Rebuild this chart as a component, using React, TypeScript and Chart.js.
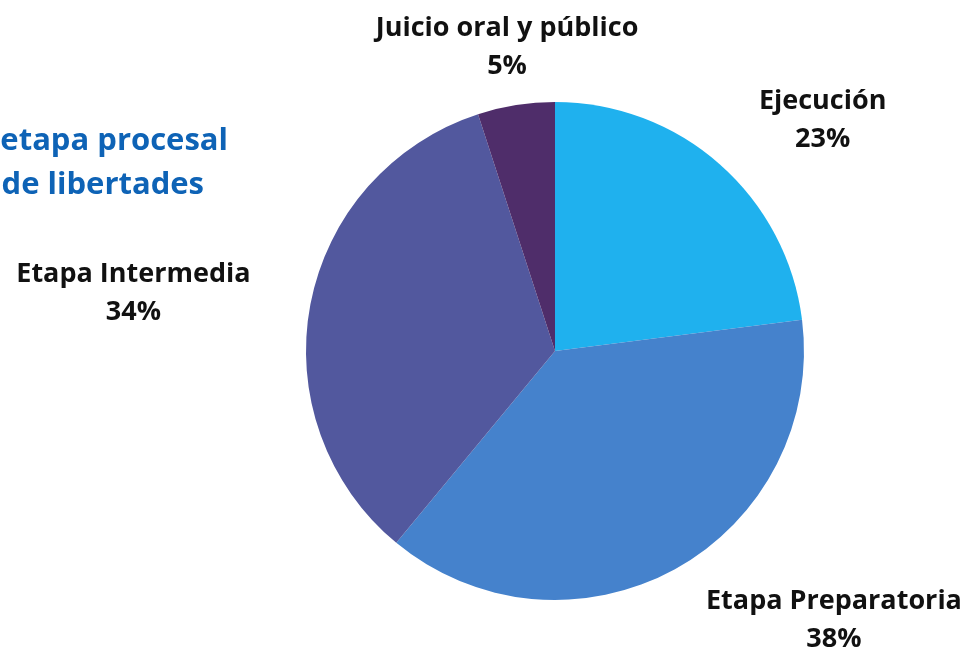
import React, { useEffect, useRef } from "react";
import { Chart, registerables } from "chart.js";

Chart.register(...registerables);

const categories = ["Ejecución", "Etapa Preparatoria", "Etapa Intermedia", "Juicio oral y público"];
const values = [23, 38, 34, 5];
const colors = ["#1FB1EE", "#4582CC", "#52589E", "#4F2D6A"];
const titleLines = ["etapa procesal", "de libertades"];
// label anchor offsets relative to the arc's mid-angle point at the outer radius
const labelOffsets = [
  [103, -44],
  [159, 51],
  [-177, -11],
  [-9, -58],
];

const FONT = "'Open Sans', 'Noto Sans', sans-serif";

const labelPlugin = {
  id: "pieLabels",
  afterDraw(chart: any) {
    const ctx = chart.ctx;
    const meta = chart.getDatasetMeta(0);
    const total = values.reduce((a, b) => a + b, 0);
    ctx.save();
    ctx.fillStyle = "#111111";
    ctx.font = `bold 27px ${FONT}`;
    ctx.textAlign = "center";
    ctx.textBaseline = "middle";
    meta.data.forEach((arc: any, i: number) => {
      const { x, y, startAngle, endAngle, outerRadius } = arc.getProps(
        ["x", "y", "startAngle", "endAngle", "outerRadius"],
        true
      );
      const mid = (startAngle + endAngle) / 2;
      const ax = x + Math.cos(mid) * outerRadius + labelOffsets[i][0];
      const ay = y + Math.sin(mid) * outerRadius + labelOffsets[i][1];
      const pct = Math.round((values[i] / total) * 100) + "%";
      ctx.fillText(categories[i], ax, ay - 19);
      ctx.fillText(pct, ax, ay + 19);
    });
    // title
    ctx.fillStyle = "#0E63B6";
    ctx.font = `bold 31px ${FONT}`;
    ctx.textAlign = "right";
    ctx.fillText(titleLines[0], 228, 141);
    ctx.fillText(titleLines[1], 204, 185);
    ctx.restore();
  },
};

export default function App() {
  const ref = useRef<HTMLCanvasElement>(null);
  useEffect(() => {
    document.body.style.margin = "0";
    const chart = new Chart(ref.current!, {
      type: "pie",
      data: {
        labels: categories,
        datasets: [
          {
            data: values,
            backgroundColor: colors,
            borderWidth: 0,
          },
        ],
      },
      options: {
        animation: false,
        responsive: false,
        layout: { padding: { left: 306, right: 172, top: 102, bottom: 53 } },
        plugins: {
          legend: { display: false },
          tooltip: { enabled: false },
        },
      },
      plugins: [labelPlugin],
    });
    return () => chart.destroy();
  }, []);
  return (
    <div style={{ width: 976, height: 653, background: "#fff" }}>
      <canvas ref={ref} width={976} height={653} />
    </div>
  );
}
